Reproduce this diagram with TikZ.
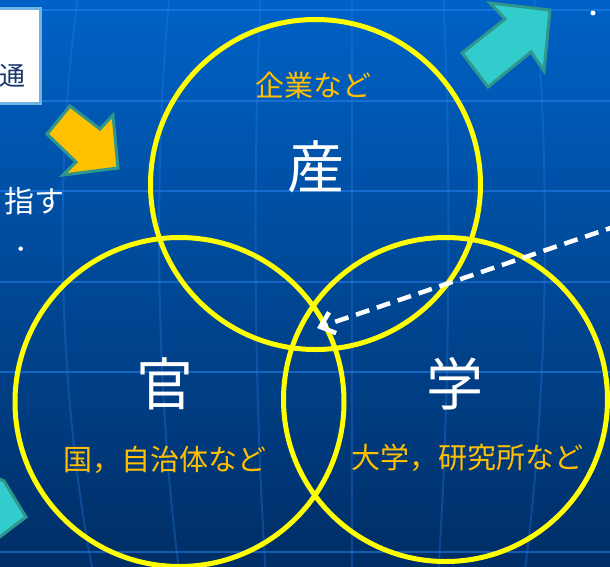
\documentclass[tikz,border=0pt]{standalone}
\usepackage{fontspec}
\setmainfont{Noto Sans CJK JP}
\usetikzlibrary{arrows.meta}
\definecolor{bgtop}{RGB}{0,98,198}
\definecolor{bgbot}{RGB}{0,46,102}
\definecolor{gridc}{RGB}{40,130,240}
\definecolor{ringc}{RGB}{255,255,0}
\definecolor{labelc}{RGB}{255,192,0}
\definecolor{tealfill}{RGB}{51,204,204}
\definecolor{tealline}{RGB}{46,150,140}
\definecolor{orangefill}{RGB}{255,192,0}
\definecolor{navytext}{RGB}{25,55,110}
\definecolor{boxline}{RGB}{110,180,228}
\begin{document}
\begin{tikzpicture}[x=1pt,y=-1pt,
  ring/.style={draw=ringc, line width=5pt, circle, inner sep=0pt, minimum size=#1},
  lab/.style={text=labelc, font=\fontsize{29}{31}\selectfont, inner sep=0pt},
  bigchar/.style={text=white, font=\fontsize{57}{60}\selectfont, inner sep=0pt},
  sidetext/.style={text=white, font=\fontsize{30}{32}\selectfont, inner sep=0pt},
  blockarrow/.style={draw=tealline, line width=3pt, line join=miter},
  hgrid/.style={draw=gridc, line width=2.5pt, opacity=0.55},
  vgrid/.style={draw=gridc, line width=2pt, opacity=0.3},
  dasharrow/.style={draw=white, line width=4.5pt, dash pattern=on 14pt off 8pt,
    -{Straight Barb[length=13pt,width=22pt]}}]
\useasboundingbox (0,0) rectangle (610,566);
\clip (0,0) rectangle (610,566);
% background
\shade[top color=bgtop, bottom color=bgbot] (0,0) rectangle (610,566);
% grid: parallels
\foreach \yy in {10,101,191,282,372,552}
  \draw[hgrid] (-5,\yy) -- (615,\yy);
% grid: meridians
\foreach \d in {-288,-192,-96,0,96,192}
  \draw[vgrid] ({352+0.95*\d},-5) .. controls ({352+1.03*\d},150) and ({352+1.03*\d},380) .. ({352+0.9*\d},571);
% white box with text
\node[draw=boxline, line width=3pt, fill=white, inner sep=0pt, minimum width=55pt, minimum height=95pt] (box) at (12.5,55.5) {};
\node[text=navytext, font=\fontsize{26}{28}\selectfont, inner sep=0pt] (tsu) at (12.5,76) {通};
% side texts
\node[sidetext] (mezasu) at (35,201) {指す};
\node[sidetext, anchor=west, font=\fontsize{28}{30}\selectfont] (period) at (14,249) {．};
% orange arrow
\filldraw[blockarrow, fill=orangefill] (70,106) -- (100,129) -- (113,115) -- (118,168) -- (63,175) -- (76,162) -- (47,134) -- cycle;
% teal arrow top right
\filldraw[blockarrow, fill=tealfill] (490,3) -- (550,10) -- (544,71) -- (531,52) -- (488,87) -- (462,53) -- (505,19) -- cycle;
% teal arrow bottom left (cut)
\filldraw[blockarrow, fill=tealfill] (-20,470) -- (4,481) -- (26,517) -- (-20,552) -- cycle;
% small dot
\fill[white] (593,13) circle (2.5pt);
% circles
\node[ring=330pt] (san) at (315.5,184.5) {};
\node[ring=329pt] (kan) at (179.5,402) {};
\node[ring=324pt] (gaku) at (445.5,399.5) {};
% labels
\node[lab] (kigyou) at (313.5,85) {企業など};
\node[bigchar] (sanc) at (316,167) {産};
\node[bigchar] (kanc) at (165,384) {官};
\node[bigchar] (gakuc) at (455,384) {学};
\node[lab] (kuni) at (165,460) {国，自治体など};
\node[lab] (daigaku) at (467,458) {大学，研究所など};
% dashed arrow
\coordinate (dstart) at (640,218);
\coordinate (dtip) at (317,328);
\draw[dasharrow] (dstart) -- (dtip);
\end{tikzpicture}
\end{document}
